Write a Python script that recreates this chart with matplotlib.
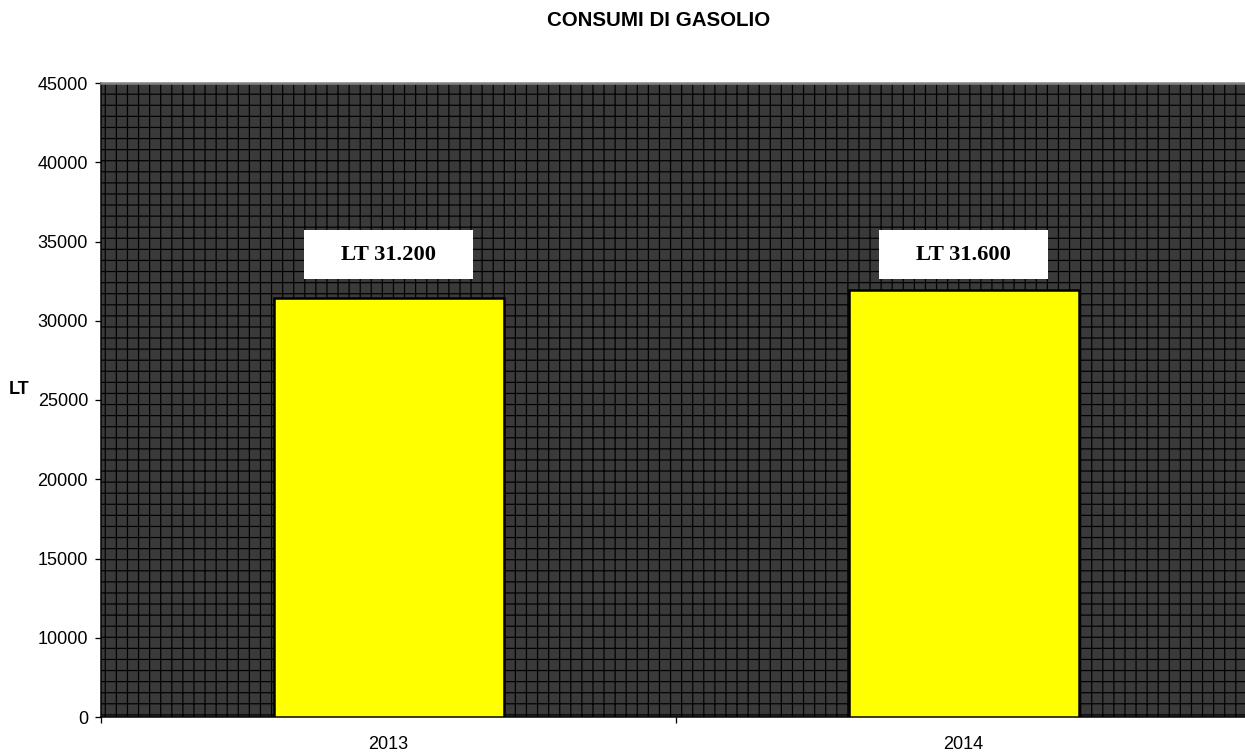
import matplotlib.pyplot as plt
from matplotlib.patches import Rectangle

years = ['2013', '2014']
litri = [31450, 31950]
etichette = ['LT 31.200', 'LT 31.600']
label_y = 34150

yticks = [5000, 10000, 15000, 20000, 25000, 30000, 35000, 40000, 45000]
ytick_labels = ['0', '10000', '15000', '20000', '25000', '30000', '35000', '40000', '45000']

# dpi chosen so the '++' hatch gives ~11 px cells like the original
DPI = 133
def pt(px):
    return px * 72.0 / DPI

plt.rcParams['font.family'] = 'Liberation Sans'
plt.rcParams['hatch.linewidth'] = pt(1.2)

fig = plt.figure(figsize=(1245 / DPI, 753 / DPI), dpi=DPI)
ax = fig.add_axes([101 / 1245, 36 / 753, 1150 / 1245, 634 / 753])

# patterned plot area
bg = Rectangle((0, 0), 1, 1, transform=ax.transAxes, facecolor='#3a3a3a',
               edgecolor='black', hatch='++', lw=0, zorder=0)
ax.add_patch(bg)
ax.patch.set_visible(False)

x = list(range(len(years)))
ax.bar(x, litri, width=0.4, color='#ffff00', edgecolor='black', linewidth=pt(2.5), zorder=2)

for xi, t in zip(x, etichette):
    ax.add_patch(Rectangle((xi - 0.147, label_y - 1546), 0.294, 3092,
                           facecolor='white', edgecolor='none', zorder=3))
    ax.text(xi, label_y, t, ha='center', va='center', fontsize=pt(22.5),
            fontweight='bold', family='Liberation Serif', zorder=4)

ax.set_xlim(-0.5, 1.5)
ax.set_ylim(5000, 45000)
ax.set_yticks(yticks)
ax.set_yticklabels(ytick_labels)
ax.set_xticks([-0.5, 0.5, 1.5])
ax.set_xticklabels([])
ax.set_xticks(x, minor=True)
ax.set_xticklabels(years, minor=True)
ax.tick_params(axis='x', which='minor', length=0, pad=pt(19))
ax.tick_params(axis='both', which='major', direction='out', length=pt(6),
               width=pt(1.3), labelsize=pt(18), pad=pt(7))
ax.tick_params(axis='x', which='minor', labelsize=pt(18))

for s in ['left', 'bottom']:
    ax.spines[s].set_color('black')
    ax.spines[s].set_linewidth(pt(1.5))
ax.spines['top'].set_color('#808080')
ax.spines['top'].set_linewidth(pt(2.5))
ax.spines['right'].set_visible(False)

ax.set_ylabel('LT', rotation=0, fontweight='bold', fontsize=pt(18), va='center')
ax.yaxis.set_label_coords(-0.0713, 0.517)

fig.text(659 / 1245, 1 - 20 / 753, 'CONSUMI DI GASOLIO', ha='center', va='center',
         fontsize=pt(20.5), fontweight='bold')

fig.savefig('out.png', dpi=DPI)
